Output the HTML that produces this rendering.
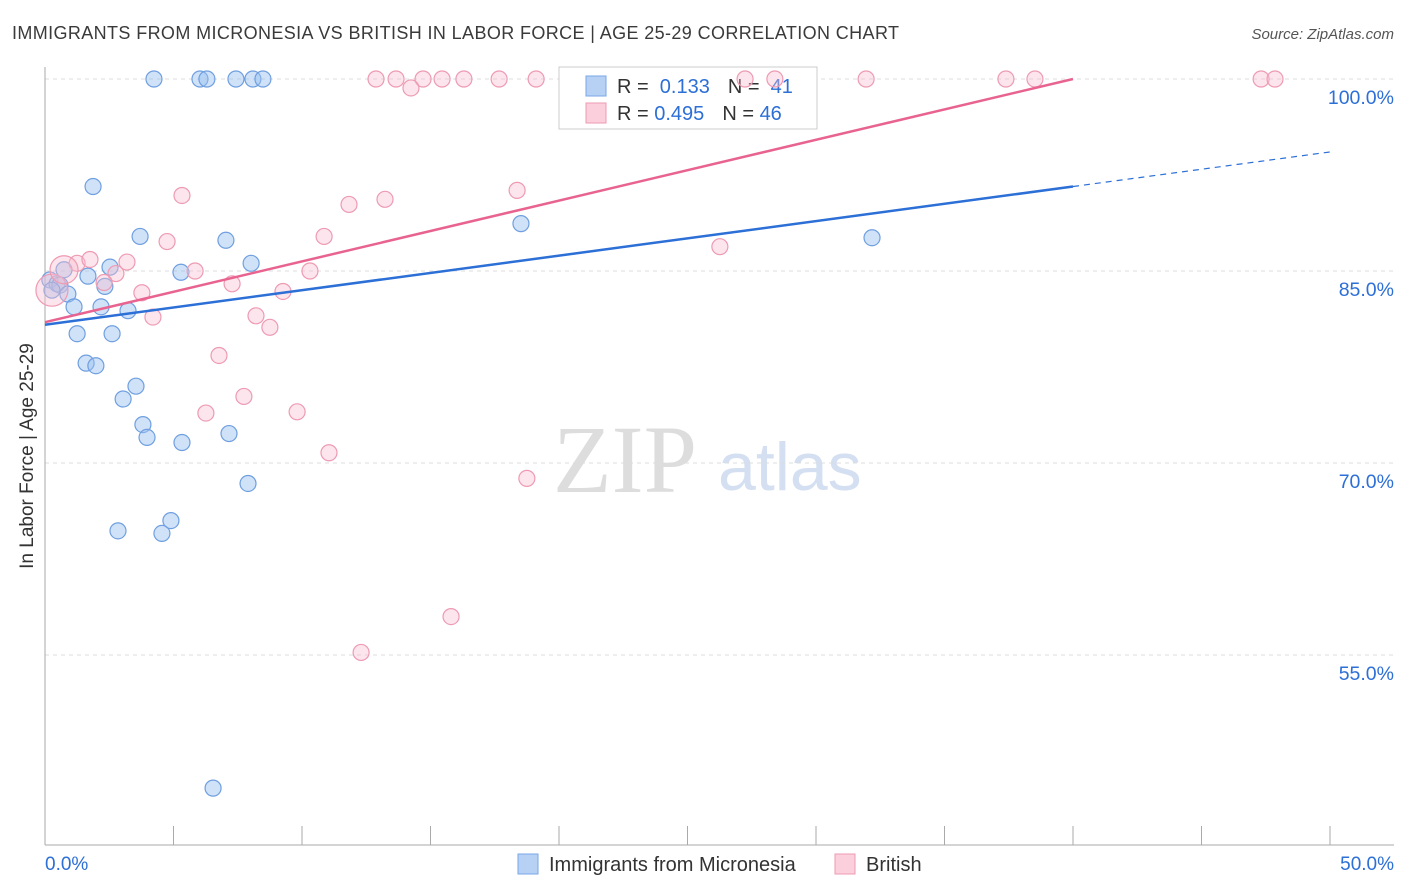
<!DOCTYPE html>
<html><head><meta charset="utf-8"><style>
body{margin:0;background:#fff;font-family:"Liberation Sans",sans-serif}
svg{display:block}
</style></head><body>
<svg id="c" width="1406" height="892" xmlns="http://www.w3.org/2000/svg">
<text x="12" y="39" font-size="18" fill="#3a3a3a" textLength="887">IMMIGRANTS FROM MICRONESIA VS BRITISH IN LABOR FORCE | AGE 25-29 CORRELATION CHART</text>
<text x="1394" y="39" font-size="15" fill="#555" text-anchor="end" font-style="italic">Source: ZipAtlas.com</text>
<text x="33" y="456" font-size="19" fill="#333" text-anchor="middle" transform="rotate(-90 33 456)">In Labor Force | Age 25-29</text>
<text x="553" y="492" font-size="96" fill="#ddd" font-family="Liberation Serif,serif">ZIP</text>
<text x="718" y="490" font-size="68" fill="#d4e0f2">atlas</text>
<g id="grid"></g>
<g>
<rect x="559" y="67" width="258" height="62" fill="#fff" stroke="#ccc"/>
<rect x="586" y="76" width="20" height="20" fill="#b7d1f5" stroke="#7aa6e6"/>
<rect x="586" y="103" width="20" height="20" fill="#fbd0dc" stroke="#ef9ab3"/>
<text x="617" y="93" font-size="20" fill="#333">R = <tspan fill="#2c6fd6">&#160;0.133</tspan><tspan dx="18" fill="#333">N = </tspan><tspan fill="#2c6fd6">&#160;41</tspan></text>
<text x="617" y="120" font-size="20" fill="#333">R = <tspan fill="#2c6fd6">0.495</tspan><tspan dx="18" fill="#333">N = </tspan><tspan fill="#2c6fd6">46</tspan></text>
</g>
<g id="pts"></g><g id="lines"></g>
<g>
<rect x="518" y="854" width="20" height="20" fill="#b7d1f5" stroke="#7aa6e6"/>
<text x="549" y="871" font-size="20" fill="#333">Immigrants from Micronesia</text>
<rect x="835" y="854" width="20" height="20" fill="#fbd0dc" stroke="#ef9ab3"/>
<text x="866" y="871" font-size="20" fill="#333">British</text>
</g>
<text x="45" y="870" font-size="19" fill="#2c6fd6">0.0%</text>
<text x="1394" y="870" font-size="19" fill="#2c6fd6" text-anchor="end">50.0%</text>
</svg>
<script>
const yTicks=[100,85,70,55];
const yTickLabels=["100.0%","85.0%","70.0%","55.0%"];
const blueX=[4.24,6.03,6.30,7.43,8.09,8.48,1.87,3.70,7.04,18.52,32.18,8.02,5.29,2.53,1.67,0.74,0.19,0.47,0.58,0.89,0.27,2.33,2.18,3.23,1.13,2.61,1.25,1.60,1.98,3.54,3.04,3.81,3.97,5.33,7.16,7.90,2.84,4.55,4.90,6.54];
const blueY=[100,100,100,100,100,100,91.6,87.7,87.4,88.7,87.6,85.6,84.9,85.3,84.6,85.1,84.3,84.0,83.9,83.2,83.5,83.8,82.2,81.9,82.2,80.1,80.1,77.8,77.6,76.0,75.0,73.0,72.0,71.6,72.3,68.4,64.7,64.5,65.5,44.6];
const pinkX=[12.88,13.66,14.71,15.45,16.30,17.67,19.11,14.24,27.24,28.40,31.95,37.39,38.52,47.32,47.86,5.33,11.83,13.23,18.37,4.75,10.86,26.26,1.25,1.75,3.19,2.76,5.84,10.31,7.28,9.26,3.77,2.30,4.20,8.21,8.75,6.77,7.74,6.26,9.81,11.05,18.75,15.80,12.30,0.27,0.74];
const pinkY=[100,100,100,100,100,100,100,99.3,100,100,100,100,100,100,100,90.9,90.2,90.6,91.3,87.3,87.7,86.9,85.6,85.9,85.7,84.8,85.0,85.0,84.0,83.4,83.3,84.1,81.4,81.5,80.6,78.4,75.2,73.9,74.0,70.8,68.8,58.0,55.2,83.5,85.1];
const pinkR=[8,8,8,8,8,8,8,8,8,8,8,8,8,8,8,8,8,8,8,8,8,8,8,8,8,8,8,8,8,8,8,8,8,8,8,8,8,8,8,8,8,8,8,16,14];
const blueTrend=[80.8,0.27];
const pinkTrend=[81.0,0.475];
const NS="http://www.w3.org/2000/svg";
const X=v=>45+v*25.7, Y=v=>79+(100-v)*12.8;
function mk(t,a,p){const e=document.createElementNS(NS,t);for(const k in a)e.setAttribute(k,a[k]);p.appendChild(e);return e;}
const g=document.getElementById('grid');
yTicks.forEach((t,i)=>{
 const l=mk('line',{x1:45,x2:1394,y1:Y(t),y2:Y(t),stroke:'#ddd','stroke-dasharray':'4,4'},g);
 
 
 const tx=mk('text',{x:1394,y:Y(t)+25,'font-size':19.5,fill:'#2c6fd6','text-anchor':'end'},g);
 tx.textContent=yTickLabels[i];
 
 
});
const ax=mk('line',{x1:45,x2:45,y1:67,y2:845,stroke:'#aaa'},g);


const bx=mk('line',{x1:45,x2:1394,y1:845,y2:845,stroke:'#aaa'},g);


for(let i=0;i<=10;i++){const t=mk('line',{x1:X(i*5),x2:X(i*5),y1:826,y2:845,stroke:'#aaa'},g);
 
 }
const p=document.getElementById('pts');
blueX.forEach((v,i)=>{const c=mk('circle',{cx:X(v),cy:Y(blueY[i]),r:8,fill:'rgba(150,190,240,0.45)',stroke:'#6f9fe0','stroke-width':1.2},p);
 
 });
pinkX.forEach((v,i)=>{const c=mk('circle',{cx:X(v),cy:Y(pinkY[i]),r:pinkR[i],fill:'rgba(248,190,208,0.4)',stroke:'#ee9ab3','stroke-width':1.2},p);
 
 });
const L=document.getElementById('lines');
const b1=mk('line',{x1:X(0),y1:Y(blueTrend[0]),x2:X(40),y2:Y(blueTrend[0]+blueTrend[1]*40),stroke:'#2c6fd6','stroke-width':2.5},L);


const b2=mk('line',{x1:X(40),y1:Y(blueTrend[0]+blueTrend[1]*40),x2:X(50),y2:Y(blueTrend[0]+blueTrend[1]*50),stroke:'#2c6fd6','stroke-width':1.2,'stroke-dasharray':'6,5'},L);


const p1=mk('line',{x1:X(0),y1:Y(pinkTrend[0]),x2:X(40),y2:Y(pinkTrend[0]+pinkTrend[1]*40),stroke:'#e8638f','stroke-width':2.5},L);


</script>
</body></html>
